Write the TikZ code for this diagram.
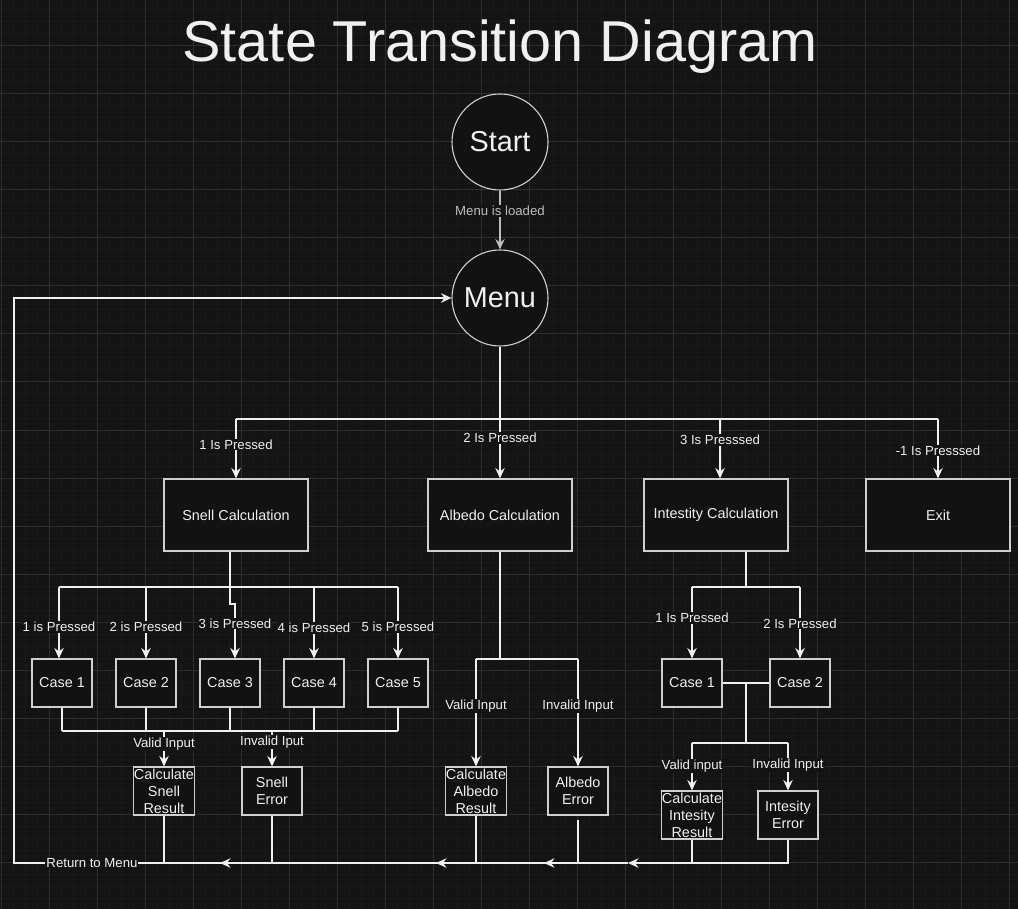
\documentclass[tikz,border=0pt]{standalone}
\usepackage{fontspec}
\setmainfont{Liberation Sans}
\usetikzlibrary{arrows.meta,calc}
\definecolor{canvas}{HTML}{141414}
\definecolor{minorgrid}{HTML}{1A1A1A}
\definecolor{majorgrid}{HTML}{2E2E2E}
\definecolor{boxfill}{HTML}{121212}
\definecolor{boxline}{HTML}{CFCFCF}
\definecolor{wire}{HTML}{F0F0F0}
\definecolor{dimwire}{HTML}{BDBDBD}
\newcommand{\statesize}{96pt}
\newcommand{\calcwidth}{144pt}
\newcommand{\calcheight}{72pt}
\newcommand{\casewidth}{60pt}
\newcommand{\caseheight}{48pt}
\tikzset{
  >={Stealth[length=10.5pt,width=9.5pt,inset=3.5pt]},
  every node/.style={text=wire},
  state/.style={draw=boxline,fill=boxfill,shape=circle,minimum size=\statesize,inner sep=0,line width=1.1pt,font=\fontsize{28.8}{34}\selectfont},
  calc/.style={draw=boxline,fill=boxfill,shape=rectangle,minimum width=\calcwidth,minimum height=\calcheight,inner sep=0.5pt,line width=1.1pt,font=\fontsize{14.4}{17}\selectfont},
  casebox/.style={calc,minimum width=\casewidth,minimum height=\caseheight,align=center},
  lbl/.style={fill=canvas,inner sep=1pt,font=\fontsize{13.2}{15}\selectfont},
  wireline/.style={draw=wire,line width=1.3pt},
  line/.style={wireline,->}
}
\begin{document}
\begin{tikzpicture}[x=1pt,y=-1pt]
  \useasboundingbox[fill=canvas] (0,0) rectangle (1018,909);
  \foreach \gx in {1,13,...,1017} \draw[minorgrid,line width=1pt] (\gx,0) -- (\gx,909);
  \foreach \gy in {10,22,...,909} \draw[minorgrid,line width=1pt] (0,\gy) -- (1018,\gy);
  \foreach \gx in {1,49,...,1017} \draw[majorgrid,line width=1pt] (\gx,0) -- (\gx,909);
  \foreach \gy in {46,94,...,909} \draw[majorgrid,line width=1pt] (0,\gy) -- (1018,\gy);

  \node (title) [anchor=base,font=\fontsize{57.6}{60}\selectfont] at (500,62) {State Transition Diagram};
  \node (start) [state] at (500,142) {Start};
  \node (menu) [state] at (500,298) {Menu};

  \node (snell) [calc] at (236,515) {Snell Calculation};
  \node (albedo) [calc] at (500,515) {Albedo Calculation};
  \node (intens) [calc] at (716,515) {Intestity Calculation};
  \node (exit) [calc] at (938,515) {Exit};

  \foreach \i/\cx in {1/62,2/146,3/230,4/314,5/398}
    \node (case\i) [casebox] at (\cx,683) {Case \i};
  \node (snellres) [casebox] at (164,791) {Calculate\\Snell\\Result};
  \node (snellerr) [casebox] at (272,791) {Snell\\Error};
  \node (albres) [casebox] at (476,791) {Calculate\\Albedo\\Result};
  \node (alberr) [casebox] at (578,791) {Albedo\\Error};
  \node (intcase1) [casebox] at (692,683) {Case 1};
  \node (intcase2) [casebox] at (800,683) {Case 2};
  \node (intres) [casebox] at (692,815) {Calculate\\Intesity\\Result};
  \node (interr) [casebox] at (788,815) {Intesity\\Error};

  \path [line,draw=dimwire] (start) -- (menu) node[lbl,text=dimwire,pos=0.35] {Menu is loaded};

  \coordinate (mbus) at (500,419);
  \coordinate (mb1) at (236,419);
  \coordinate (mb3) at (720,419);
  \coordinate (mb4) at (938,419);
  \path [wireline] (menu) -- (mbus);
  \path [wireline] (mb1) -- (mb4);
  \path [line] (mb1) -- (snell) node[lbl,pos=0.43] {1 Is Pressed};
  \path [line] (mbus) -- (albedo) node[lbl,pos=0.32] {2 Is Pressed};
  \path [line] (mb3) -- (mb3 |- intens.north) node[lbl,pos=0.35] {3 Is Presssed};
  \path [line] (mb4) -- (exit) node[lbl,pos=0.53] {-1 Is Presssed};

  \coordinate (sb) at (230,587);
  \path [wireline] (sb |- snell.south) -- (sb);
  \foreach \i/\bx in {1/59,2/146,3/230,4/314,5/398}
    \coordinate (sb\i) at (\bx,587);
  \path [wireline] (sb1) -- (sb5);
  \foreach \i/\p in {1/0.56,2/0.56,4/0.57,5/0.56}
    \path [line] (sb\i) -- (sb\i |- case\i.north) node[lbl,pos=\p] {\i\ is Pressed};
  \path [line] (sb3) -- ++(0,17) -| ([xshift=5pt]case3.north) node[lbl,pos=0.68] {3 is Pressed};

  \coordinate (sj1) at (62,731);
  \coordinate (sj5) at (398,731);
  \foreach \i in {1,...,5}
    \path [wireline] (case\i.south) -- (case\i.south |- sj1);
  \path [wireline] (sj1) -- (sj5);
  \path [line] (snellres.north |- sj1) -- (snellres) node[lbl,pos=0.36] {Valid Input};
  \path [line] (snellerr.north |- sj1) -- (snellerr) node[lbl,pos=0.31] {Invalid Iput};

  \coordinate (ab) at (500,659);
  \path [wireline] (albedo) -- (ab);
  \path [wireline] (albres.north |- ab) -- (alberr.north |- ab);
  \path [line] (albres.north |- ab) -- (albres) node[lbl,pos=0.44] {Valid Input};
  \path [line] (alberr.north |- ab) -- (alberr) node[lbl,pos=0.44] {Invalid Input};

  \coordinate (ib) at (746,587);
  \coordinate (ij) at (746,743);
  \path [wireline] (ib |- intens.south) -- (ib);
  \path [wireline] (intcase1.north |- ib) -- (intcase2.north |- ib);
  \path [line] (intcase1.north |- ib) -- (intcase1) node[lbl,pos=0.43] {1 Is Pressed};
  \path [line] (intcase2.north |- ib) -- (intcase2) node[lbl,pos=0.51] {2 Is Pressed};
  \path [wireline] (intcase1) -- (intcase2);
  \path [wireline] (ib |- intcase1) -- (ij);
  \path [wireline] (intres.north |- ij) -- (interr.north |- ij);
  \path [line] (intres.north |- ij) -- (intres) node[lbl,pos=0.48] {Valid input};
  \path [line] (interr.north |- ij) -- (interr) node[lbl,pos=0.46] {Invalid Input};

  \coordinate (ret) at (14,863);
  \coordinate (r1) at (628,863);
  \coordinate (r2) at (544,863);
  \coordinate (r3) at (436,863);
  \coordinate (r4) at (220,863);
  \path [line] (interr) |- (r1);
  \path [wireline] (intres) -- (intres |- r1);
  \path [line] ([yshift=-4pt]alberr.south) |- (r2);
  \path [line] (albres) |- (r3);
  \path [line] (snellerr) |- (r4);
  \path [wireline] (snellres) -- (snellres |- ret);
  \path [line] (r1) -- (ret) node[lbl,pos=0.873] {Return to Menu} |- (menu);
\end{tikzpicture}
\end{document}
